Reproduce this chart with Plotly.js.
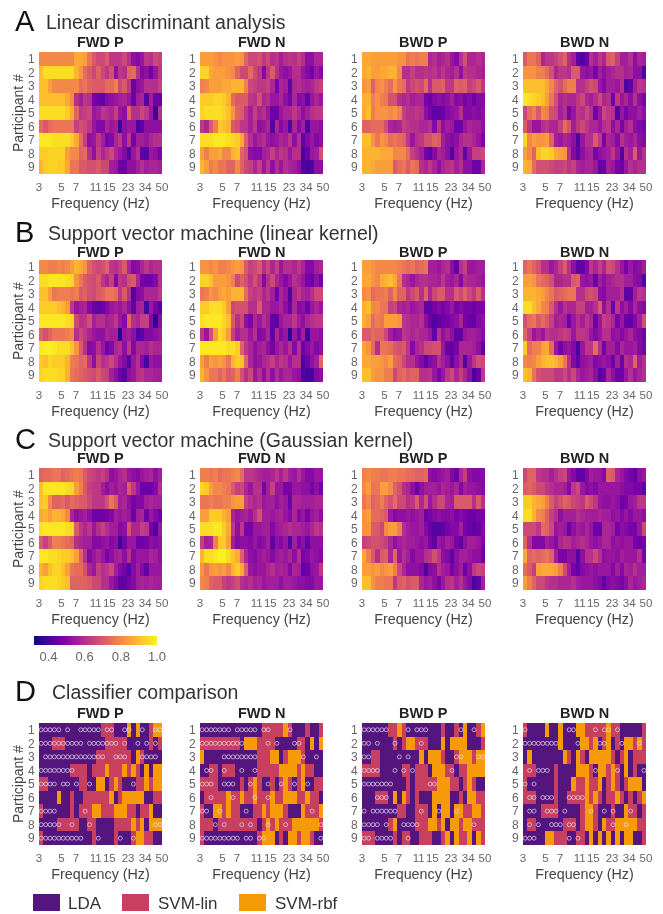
<!DOCTYPE html>
<html><head><meta charset="utf-8">
<script src="https://cdn.plot.ly/plotly-3.0.1.min.js"></script>
<style>html,body{margin:0;padding:0;background:#fff}#c{width:663px;height:914px;filter:blur(0.5px)}</style>
</head><body><div id="c"></div>
<script>
const freqEdges=[3,3.32,3.67,4.05,4.48,4.96,5.48,6.06,6.7,7.41,8.19,9.06,10,11.08,12.25,13.55,14.98,16.56,18.32,20.25,22.4,24.77,27.39,30.29,33.49,37.03,40.95,45.28,50];
const freqCenters=[3.15,3.49,3.86,4.26,4.72,5.22,5.77,6.38,7.05,7.8,8.62,9.53,10.54,11.65,12.88,14.25,15.75,17.42,19.26,21.3,23.55,26.04,28.8,31.84,35.2,38.9,43,47.6];
const freqTicks=[3,5,7,11,15,23,34,50];
const participants=[1,2,3,4,5,6,7,8,9];
const conditions=['FWD P','FWD N','BWD P','BWD N'];
const classifierNames=['LDA','SVM-lin','SVM-rbf'];

const A_FWD_P=[
[80,80,80,80,80,80,80,80,86,86,84,76,70,66,66,70,62,62,62,66,60,52,50,54,62,60,66,64],
[90,96,96,96,96,96,96,96,88,82,74,70,66,72,66,62,68,52,62,60,72,74,60,50,52,46,54,62],
[90,90,84,80,80,80,80,80,80,74,76,72,70,70,70,74,74,78,66,70,62,46,52,54,60,60,60,64],
[90,90,90,90,90,90,86,80,60,56,62,60,48,46,44,50,52,54,56,58,54,46,56,58,42,56,46,44],
[96,96,96,96,96,96,92,86,72,62,64,66,54,56,62,60,58,64,54,52,72,60,60,66,62,54,38,60],
[74,70,74,76,76,76,76,76,64,68,66,62,54,50,50,58,54,56,38,52,54,54,42,44,52,52,52,52],
[98,98,98,96,96,96,96,92,86,74,64,52,54,62,56,48,50,58,62,52,62,48,56,56,54,58,60,60],
[92,92,94,94,94,94,84,80,80,72,74,60,52,64,58,62,66,58,54,50,42,54,60,44,42,54,52,48],
[88,92,94,94,92,92,86,76,76,70,70,68,68,70,66,66,56,54,46,46,52,52,56,60,56,58,58,56]];
const A_FWD_N=[
[84,84,84,82,80,82,82,82,84,82,72,66,66,68,62,66,60,62,56,60,62,60,64,60,52,52,58,58],
[94,94,86,84,84,84,82,80,72,66,66,74,66,62,50,62,70,60,54,52,54,60,60,54,50,46,54,50],
[78,80,84,84,84,86,86,88,88,88,78,66,64,62,62,64,58,48,58,56,44,58,60,58,56,58,62,64],
[92,92,92,94,94,92,88,74,70,70,70,62,60,68,58,60,54,54,58,52,48,58,50,52,44,54,58,54],
[94,96,96,96,96,94,90,82,72,70,62,56,64,58,60,54,46,46,54,58,58,62,58,52,56,60,62,62],
[62,58,70,78,92,90,88,70,68,62,62,56,62,52,54,58,42,58,50,54,42,58,50,56,40,54,54,52],
[96,96,96,98,98,98,96,94,92,86,70,60,54,58,60,54,52,54,58,56,62,52,60,44,50,54,50,52],
[84,78,84,84,86,80,80,88,90,72,68,52,50,50,56,58,64,58,62,60,54,60,60,40,46,54,56,68],
[88,84,78,80,76,76,72,72,80,72,66,64,58,64,54,62,52,60,54,60,58,56,52,42,40,42,52,52]];
const A_BWD_P=[
[86,86,84,84,84,84,84,84,82,82,76,78,76,78,78,58,60,56,58,60,54,50,60,68,58,58,60,58],
[86,88,84,84,86,86,88,88,80,60,60,64,60,60,62,60,62,58,62,58,56,60,52,62,60,60,58,56],
[82,84,72,80,82,78,74,82,76,74,62,66,68,66,74,60,70,70,72,62,62,72,70,72,64,66,70,62],
[88,88,78,82,78,76,68,68,60,58,60,56,58,58,48,46,50,52,50,52,56,50,52,48,50,46,50,50],
[86,90,78,82,82,82,80,82,78,64,60,60,62,60,52,48,44,44,46,50,52,54,60,50,50,52,50,52],
[72,72,74,74,74,68,58,56,58,64,62,60,60,58,58,60,50,62,52,56,54,46,46,54,58,56,56,52],
[90,90,82,76,82,80,74,76,74,72,62,54,60,62,68,68,72,70,56,52,50,52,58,60,60,58,54,48],
[88,88,88,88,86,86,86,80,80,80,74,64,60,56,48,44,50,58,56,52,42,54,58,44,54,64,64,66],
[88,88,86,84,84,84,84,70,74,76,70,76,74,60,58,62,58,52,58,60,62,56,60,52,52,46,46,58]];
const A_BWD_N=[
[70,76,76,72,58,62,62,64,68,72,60,56,44,42,46,60,56,62,58,70,72,64,56,56,60,52,58,56],
[82,82,82,78,78,74,68,58,62,62,60,70,70,54,52,54,48,56,52,56,58,60,60,56,58,52,52,42],
[90,90,90,90,90,86,80,72,68,74,78,78,60,60,64,68,66,54,50,56,56,54,60,42,44,56,62,60],
[98,96,94,92,90,84,76,68,58,60,58,58,62,66,58,56,60,66,58,60,46,62,54,58,52,60,52,48],
[66,74,78,70,80,78,68,66,56,60,48,54,62,60,66,60,46,54,66,62,60,42,54,48,52,52,56,52],
[70,62,54,54,60,62,58,58,64,74,68,56,62,66,62,58,58,54,60,62,52,58,48,56,60,52,50,48],
[94,80,84,82,82,84,72,56,54,58,56,52,42,54,60,60,70,62,48,58,56,50,60,56,54,58,52,50],
[84,80,72,90,94,94,92,86,84,82,60,50,44,52,56,58,48,52,54,56,62,54,42,60,56,70,54,60],
[88,86,74,68,68,68,66,64,64,66,62,64,58,56,58,58,54,44,46,56,54,48,46,54,60,58,60,60]];
const B_FWD_P=[
[80,80,78,78,80,78,80,84,88,86,82,72,68,66,68,72,62,60,64,70,58,50,52,58,62,58,60,60],
[96,96,98,98,98,98,96,94,82,76,70,68,66,70,62,58,64,50,62,60,68,70,58,48,46,46,50,60],
[90,90,84,76,78,78,78,76,78,70,72,68,66,70,72,76,76,74,62,70,60,42,50,52,58,58,58,62],
[92,92,92,92,90,88,84,62,54,56,58,50,46,44,46,50,54,56,54,58,52,44,56,58,40,54,48,42],
[98,98,98,98,98,98,96,94,66,60,62,68,56,60,60,56,58,62,54,50,72,60,58,64,64,50,36,52],
[72,68,72,76,76,76,78,80,60,66,62,58,54,52,52,58,56,56,36,54,56,52,42,44,50,50,52,54],
[98,100,100,98,96,96,96,90,82,70,60,50,52,60,54,46,50,58,60,52,62,50,58,58,56,60,58,58],
[92,90,94,92,92,92,88,78,76,72,74,62,52,66,60,62,66,60,54,50,42,54,60,50,40,54,52,52],
[94,96,96,96,94,94,88,76,74,72,70,68,66,70,66,64,56,52,46,42,52,54,60,62,58,58,56,56]];
const B_FWD_N=[
[82,82,80,82,78,78,80,82,84,82,70,64,66,70,60,66,58,64,54,60,60,58,62,58,50,50,56,58],
[94,94,90,84,84,84,82,78,66,72,68,62,68,62,50,60,66,58,54,50,54,60,58,54,48,46,52,46],
[76,78,82,80,84,86,84,88,88,88,74,64,62,64,58,62,56,46,58,54,42,58,62,58,56,60,66,66],
[92,92,96,96,96,92,84,66,68,68,68,60,60,70,58,58,54,54,58,52,46,58,50,52,46,54,58,54],
[96,98,98,98,98,94,90,70,60,66,52,48,58,54,60,56,44,44,54,58,58,62,56,52,58,60,62,62],
[62,54,68,84,96,92,84,64,56,60,60,54,60,50,52,58,44,58,50,54,36,54,48,56,38,54,54,52],
[98,98,98,98,98,98,96,96,92,72,62,58,52,56,58,52,48,54,58,54,60,50,60,46,50,54,50,52],
[84,78,84,82,84,82,76,88,92,90,72,58,52,54,58,60,64,58,62,60,54,60,60,40,46,52,56,72],
[88,82,76,76,72,76,70,72,78,68,60,66,54,60,52,60,52,60,54,58,58,54,52,42,40,40,50,52]];
const B_BWD_P=[
[84,84,82,80,80,80,80,80,78,76,74,76,72,74,76,56,56,54,58,60,52,44,60,64,54,54,56,56],
[86,86,82,80,86,88,90,86,76,60,58,54,58,60,60,58,58,56,62,56,54,58,50,60,58,58,56,54],
[80,82,74,76,76,78,72,80,72,72,62,66,70,60,72,58,66,70,70,60,60,70,66,72,66,62,70,60],
[88,90,80,80,76,76,64,66,58,56,58,54,56,58,44,44,48,50,48,50,54,48,50,48,48,46,48,48],
[88,84,74,78,76,84,84,84,82,62,60,58,58,60,52,46,42,44,46,48,50,52,58,48,46,44,50,52],
[70,70,74,72,72,66,56,52,54,62,60,58,60,58,58,54,44,60,52,56,52,44,44,54,56,56,54,50],
[86,82,74,60,76,76,74,70,68,70,62,50,58,60,66,66,68,68,54,46,44,48,58,58,58,56,52,44],
[86,86,84,84,82,80,84,74,72,66,60,60,54,50,44,50,52,60,56,52,44,52,58,42,54,62,68,66],
[90,90,84,82,82,78,78,66,72,74,70,72,72,60,60,62,54,48,54,62,66,58,64,58,52,40,46,62]];
const B_BWD_N=[
[72,76,72,68,60,60,54,58,64,70,60,52,44,44,50,62,58,64,58,68,66,60,54,48,54,50,52,56],
[84,84,82,76,74,72,68,58,58,60,60,70,72,54,52,54,46,56,52,56,58,60,60,56,56,52,50,42],
[88,88,88,86,84,80,76,70,72,74,76,76,60,60,66,68,66,52,50,56,56,56,60,44,44,56,62,60],
[96,96,90,86,80,78,70,60,54,60,58,58,64,64,56,56,60,70,52,60,46,62,52,56,50,58,52,50],
[68,74,76,70,74,70,64,56,58,56,46,54,60,56,62,58,46,54,64,62,58,48,54,46,44,50,56,68],
[72,64,54,58,54,62,60,60,62,64,62,54,62,62,60,54,50,54,60,60,52,54,50,54,58,52,50,46],
[92,74,78,78,84,86,74,54,46,52,54,50,40,54,62,62,74,60,46,56,56,50,58,54,54,56,50,48],
[80,78,80,84,88,90,90,88,84,76,60,50,44,52,54,56,50,52,54,52,46,56,46,60,58,72,56,60],
[90,88,76,68,66,66,66,62,62,66,60,66,58,54,56,58,52,42,46,58,52,46,46,54,60,54,58,60]];
const C_FWD_P=[
[72,74,74,76,76,72,74,76,78,76,70,66,64,62,64,60,52,54,58,60,54,52,50,54,56,58,52,56],
[90,98,98,98,98,98,96,94,84,78,70,64,62,62,56,52,56,54,58,56,70,62,54,46,46,46,50,60],
[90,92,80,72,72,74,70,74,72,70,70,66,62,62,62,68,76,70,56,58,52,48,50,50,56,58,56,56],
[86,88,84,88,88,86,80,58,52,54,56,52,46,46,46,48,50,56,54,56,54,46,56,58,46,54,50,46],
[96,98,98,98,98,98,96,94,70,62,58,62,54,60,64,60,56,56,50,52,68,58,58,64,62,48,40,54],
[70,64,70,78,78,76,74,72,60,58,56,56,50,50,52,54,50,52,38,48,54,54,46,46,48,52,50,52],
[98,98,96,96,94,92,92,90,84,72,60,50,54,58,54,48,52,56,58,52,60,50,54,54,54,58,56,52],
[88,84,90,94,94,90,84,76,74,74,68,58,54,64,60,62,66,56,50,48,42,50,56,50,44,54,54,54],
[94,96,96,96,94,92,90,72,72,72,72,70,66,66,60,60,54,50,44,44,48,50,56,58,56,58,56,56]];
const C_FWD_N=[
[78,78,76,78,74,76,76,78,80,74,62,62,60,58,56,56,58,62,56,62,56,54,60,54,50,50,54,54],
[94,92,84,80,80,78,76,70,64,66,58,54,60,60,48,56,64,54,54,48,48,54,54,52,52,48,52,46],
[76,76,78,76,76,78,78,82,84,84,64,60,58,60,54,56,56,52,56,54,46,58,58,56,56,56,58,58],
[84,84,92,92,92,88,84,58,54,56,58,54,60,68,56,56,54,56,58,54,50,58,50,54,48,54,56,52],
[96,96,96,98,98,92,86,62,52,62,48,48,54,54,56,56,50,54,56,58,60,58,58,56,54,58,62,60],
[64,56,58,78,92,92,84,56,50,52,52,50,54,50,52,56,44,52,50,54,42,56,48,52,44,52,52,52],
[88,96,96,98,100,100,96,90,86,72,58,52,50,54,56,54,50,54,56,54,58,52,60,48,50,54,52,50],
[82,76,82,84,82,84,80,88,92,86,70,54,52,54,54,58,60,56,58,56,50,58,56,44,46,52,54,62],
[80,78,72,70,70,64,62,64,68,60,58,60,56,58,54,56,56,56,52,56,56,54,52,52,50,50,54,54]];
const C_BWD_P=[
[78,80,78,78,76,76,78,78,76,76,74,74,72,72,74,52,50,52,54,56,50,46,58,64,52,50,50,50],
[80,84,76,76,84,84,80,72,68,60,58,52,46,52,56,56,56,54,58,56,54,58,50,56,54,54,52,50],
[76,80,72,74,78,72,68,74,66,66,60,62,70,58,68,54,60,66,66,58,56,70,70,70,70,60,70,60],
[82,84,74,74,72,70,54,50,52,52,54,52,54,56,46,48,50,52,50,50,52,48,50,48,46,46,48,48],
[82,82,70,70,66,80,84,84,78,60,56,54,54,56,50,46,42,42,44,48,50,50,56,48,46,44,46,50],
[64,66,68,68,66,64,58,52,56,58,56,56,54,52,54,48,44,54,52,56,54,48,44,52,56,56,54,48],
[86,78,70,60,70,72,58,72,54,60,56,50,54,54,60,62,68,62,52,50,44,52,56,56,54,52,52,46],
[84,84,82,84,80,82,84,78,66,58,52,52,52,50,42,50,52,60,56,54,48,52,56,46,52,62,66,64],
[90,90,82,78,78,76,76,62,70,72,68,70,70,58,54,56,52,48,54,60,62,56,60,54,50,40,44,56]];
const C_BWD_N=[
[66,72,72,62,60,60,56,60,64,66,54,50,44,44,50,56,54,54,50,72,70,58,54,50,48,44,52,54],
[70,72,70,66,66,62,60,58,58,56,50,62,66,54,50,52,50,54,54,54,54,54,52,50,50,48,48,44],
[92,92,88,86,84,78,70,64,68,72,70,66,64,62,70,66,62,54,52,52,54,52,46,48,54,56,62,62],
[96,96,88,80,78,72,64,60,52,56,56,56,60,58,56,56,56,58,56,56,52,54,50,54,50,54,54,52],
[66,66,66,62,74,72,66,54,56,54,46,52,56,54,58,54,46,46,58,58,56,48,52,50,48,48,54,66],
[72,60,50,50,50,56,54,50,58,60,60,56,58,60,58,54,52,54,58,58,52,54,52,54,54,48,46,48],
[86,72,74,72,74,76,72,56,48,48,52,52,42,52,60,60,66,60,52,54,54,52,56,54,54,54,60,48],
[74,70,64,84,86,86,86,84,78,66,56,48,44,50,52,54,52,54,54,54,50,56,50,58,56,60,56,56],
[84,78,72,66,66,62,60,60,58,58,58,60,56,54,54,54,52,50,44,50,52,50,48,52,58,54,56,58]];

const D_FWD_P=[
'LLLLLLL LLLLLLL SSSLLLR LRLLSRR',
'LLLSSSL LLLLLLL LSSSSSL LLLLSLS',
'LLLLLLL LLLLLLS SSSSSSS LRSLLLL',
'LLLLLLL SSSSLSS SRSSSRS RSLRLRR',
'SSLLLLL LLSSLLR RLSRSLL LSSRSRR',
'LLLLRLL SLLSSSS SSRLSRR RRRLLSS',
'SLLLLLL SLSSSRR SSSRRRS SLSSRLL',
'LLLLSSS SSLLSSL LLLSSSS RSRLRRR',
'SLLLLLL LLLLLSL LLLSLLL SRRSSLL'];
const D_FWD_N=[
'LLLLLLL LLLLLLL SSSSSRS LLLSLLS',
'SSSSSSS SSLRRRS SSSLLLL LSSLRLR',
'RLLLLLL LLLLLLS SSRRLSR RRSLLLL',
'LLSSLSS SLLLLLS SSSSRRR RSRSSLL',
'SSSSLLL LLSLSRS LLSLSRS LSRLLSS',
'LSSSSSR SSRSSRS SSRSSRR RSSRSSL',
'SLLRRSR SSLLLSS RSRRRSL LLRSSSR',
'SSSLSSS SSSSSSL SRSRSSS RRRRRRS',
'SLLLLLL LLLLLLS RRRLSLR RSRRSLL'];
const D_BWD_P=[
'LLLLLLS SRSLLLL LLLLSLL SLRLLSR',
'LLLLLLL SLSRRSS SLLLRLR RRRLLLS',
'LLSSLLL LLLLLLR LRRRSLL SRRRSRR',
'SSSSLLL LLSSLSS SLRRRSS LSSRRRR',
'LLLLLLL LLLSLSS SSSRRRS SLSRSLL',
'LLLSSSL RLRSLSL LLRRRRL LSLRRSS',
'LLLLLLL LSSLLSS SLRLRRL RRSSRRS',
'LLLLLLS RLLLLSS SRRSRLR RSRRSSS',
'SSSLLLL SLSSLLS SSLLSRL RSSRLRS'];
const D_BWD_N=[
'SLLLLRL LRLLLRR SSSSSRS SLLLLLS',
'LLLLLLL LRLLLLR RSRLSRL SLRRSRS',
'LRLLLLL LLRSLRS LRRRRRS LSRLSSS',
'SSSLLLL SLLLLRR RSLRRSR SLRLSLL',
'SLLLLLL SLLLRSS RSSRLSR SLSRRRL',
'SSSLLLL SLLSSSS RSRSLSS RSLSLSR',
'LLLLSSS SLLLLLS RRSLLLS LLRSSLS',
'LSSLLLL LLSSSLS RRSLRSS RRRRRSS',
'LLLLLRR SSSLLSS LRLRLRL RLRRLLS'];

const M_FWD_P=[[0,1,2,3,4,6,9,10,11,12,13,15,16,19,20,23,26,27],[0,1,2,3,4,5,6,7,8,9,11,12,13,14,15,16,17,19,22,24,26],[1,2,3,4,5,6,7,8,9,10,11,12,13,14,17,18,19,23,24,25,26],[0,1,2,3,4,5,6,7],[0,1,2,3,5,6,8,11,21],[],[0,1,2,3,10],[0,1,2,3,4,7,11,26,27],[0,1,2,3,4,5,6,7,8,9,13,18,21]];
const M_FWD_N=[[0,1,2,3,4,5,6,8,9,10,11,12,14,15,20],[0,1,2,3,4,5,6,7,8,9,15,17,21,22],[5,6,7,8,9,10,11,12,23,26],[1,2,5,9,12],[0,1,2,5,6,7,11,15,18,21,24],[2,7,12,15],[0,1,4,10,25],[3,5,9,11,15,19,27],[0,1,2,3,4,5,6,7,8,10,11,13,14,27]];
const M_BWD_P=[[0,1,2,3,4,5,10,12,13,14,22,25],[0,1,3,7,13],[0,1,8,10,21,22,26,27],[0,1,2,3,7,9,11,20],[0,1,2,3,4,5,6,15,16],[3,4,5],[0,2,3,4,5,6,7,13,17,21],[0,1,2,3,5,9,10,11,12,25],[0,1,3,4,5,6,10]];
const M_BWD_N=[[0,10,11,16,18,19,21],[0,1,2,3,4,5,6,7,12,17,18,22,26],[],[1,3,4,5,16,21,27],[0,2],[1,2,4,5,6,10,11,12,13],[1,2,5,6,7,9,15,18,20,24],[1,3,6,7,8,10,11,20,23],[0,1,2,10,12]];

const panelLeft=[39,200,362,523], panelTop=[52,260,468,723], panelW=123, panelH=122;
const W=663,H=914;
const plasma=[[0,'#0d0887'],[.11,'#46039f'],[.22,'#7201a8'],[.33,'#9c179e'],[.44,'#bd3786'],[.55,'#d8576b'],[.66,'#ed7953'],[.77,'#fb9f3a'],[.88,'#fdca26'],[1,'#faf021']];
const classColors=[[0,'#54157f'],[.3333,'#54157f'],[.3333,'#c83f5f'],[.6667,'#c83f5f'],[.6667,'#f79a07'],[1,'#f79a07']];
const FONT='"Liberation Sans",Arial,sans-serif';
const rowsCont=[[A_FWD_P,A_FWD_N,A_BWD_P,A_BWD_N],[B_FWD_P,B_FWD_N,B_BWD_P,B_BWD_N],[C_FWD_P,C_FWD_N,C_BWD_P,C_BWD_N]];
const rowsD=[D_FWD_P,D_FWD_N,D_BWD_P,D_BWD_N], marksD=[M_FWD_P,M_FWD_N,M_BWD_P,M_BWD_N];
const titleY=[42,252,458,713];
const traces=[],annotations=[],shapes=[];
const layout={width:W,height:H,margin:{l:0,r:0,t:0,b:0,autoexpand:false},paper_bgcolor:'#fff',plot_bgcolor:'#fff',showlegend:false,font:{family:FONT}};
function text(t,x,y,size,color,opts){annotations.push(Object.assign({text:t,x:x/W,y:1-y/H,xref:'paper',yref:'paper',showarrow:false,xanchor:'left',yanchor:'middle',font:{family:FONT,size:size,color:color}},opts||{}));}
let n=0;
for(let r=0;r<4;r++){for(let c=0;c<4;c++){
  n++;
  const sx=n===1?'':String(n);
  const xa='xaxis'+sx, ya='yaxis'+sx;
  layout[xa]={type:'log',range:[Math.log10(3),Math.log10(50)],domain:[panelLeft[c]/W,(panelLeft[c]+panelW)/W],anchor:'y'+sx,tickmode:'array',tickvals:freqTicks,ticktext:freqTicks.map(String),tickangle:0,ticks:'outside',ticklen:2,tickcolor:'rgba(0,0,0,0)',tickfont:{size:11.5,color:'#666',family:FONT},showgrid:false,zeroline:false,showline:false,title:{text:'Frequency (Hz)',font:{size:14.3,color:'#444',family:FONT},standoff:6}};
  layout[ya]={range:[9.5,.5],domain:[1-(panelTop[r]+panelH)/H,1-panelTop[r]/H],anchor:'x'+sx,tickmode:'array',tickvals:participants,ticktext:participants.map(String),ticks:'outside',ticklen:1,tickcolor:'rgba(0,0,0,0)',tickfont:{size:12,color:'#666',family:FONT},showgrid:false,zeroline:false,showline:false};
  if(c===0) text('Participant #',18,panelTop[r]+panelH/2,14,'#444',{xanchor:'center',textangle:-90});
  text(conditions[c],panelLeft[c]+panelW/2,titleY[r],14.5,'#222',{xanchor:'center',font:{family:FONT,size:14.5,color:'#222'},text:'<b>'+conditions[c]+'</b>'});
  if(r<3){
    const t={type:'heatmap',x:freqEdges,y:participants,z:rowsCont[r][c].map(a=>a.map(v=>v/100)),xaxis:'x'+sx,yaxis:'y'+sx,zmin:.32,zmax:1,colorscale:plasma,showscale:false,xgap:0,ygap:0,hoverinfo:'skip'};
    if(n===1){t.showscale=true;t.colorbar={orientation:'h',x:34/W,xanchor:'left',y:1-636/H,yanchor:'top',len:123,lenmode:'pixels',thickness:9,thicknessmode:'pixels',tickmode:'array',tickvals:[.4,.6,.8,1],ticktext:['0.4','0.6','0.8','1.0'],tickfont:{size:13,color:'#666',family:FONT},outlinewidth:0,ticks:'',xpad:0,ypad:0};}
    traces.push(t);
  } else {
    const z=rowsD[c].map(s=>s.replace(/ /g,'').split('').map(ch=>'LSR'.indexOf(ch)));
    traces.push({type:'heatmap',x:freqEdges,y:participants,z:z,xaxis:'x'+sx,yaxis:'y'+sx,zmin:0,zmax:2,colorscale:classColors,showscale:false,hoverinfo:'skip'});
    const mx=[],my=[];
    marksD[c].forEach((cols,i)=>cols.forEach(k=>{mx.push(freqCenters[k]);my.push(participants[i]);}));
    traces.push({type:'scatter',mode:'markers',x:mx,y:my,xaxis:'x'+sx,yaxis:'y'+sx,marker:{symbol:'circle-open',size:4,color:'rgba(235,225,245,0.85)',line:{width:.8,color:'rgba(235,225,245,0.85)'}},hoverinfo:'skip'});
  }
}}
const sections=[['A','Linear discriminant analysis',21,44],['B','Support vector machine (linear kernel)',232,46],['C','Support vector machine (Gaussian kernel)',439,46],['D','Classifier comparison',691,50]];
sections.forEach(s=>{text(s[0],13,s[2],29,'#111');text(s[1],s[3],s[2]+1,19.5,'#333');});
const legX=[33,122,239],legTextX=[66,156,273],legCol=['#54157f','#c83f5f','#f79a07'];
legX.forEach((x,i)=>{
  shapes.push({type:'rect',xref:'paper',yref:'paper',x0:x/W,x1:(x+27)/W,y0:1-911/H,y1:1-894/H,fillcolor:legCol[i],line:{width:0}});
  text(classifierNames[i],legTextX[i],903,17,'#333');
});
layout.annotations=annotations;layout.shapes=shapes;
Plotly.newPlot('c',traces,layout,{displayModeBar:false,staticPlot:true});
</script></body></html>
